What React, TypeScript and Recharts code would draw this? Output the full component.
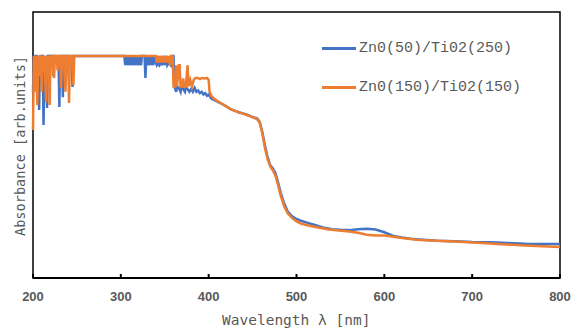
import { LineChart, Line, XAxis, YAxis, ReferenceArea } from 'recharts';

// wavelength (nm) and absorbance (arb. units) for ZnO(50)/TiO2(250)
const blueWl = [
  200, 201, 202, 203, 204, 205, 206, 207, 208, 209, 210, 211, 212, 213, 214, 215, 216, 217, 218, 219,
  220, 222, 223, 224, 226, 228, 229, 230, 231, 233, 234, 235, 237, 238, 239, 242, 243, 244, 245, 246,
  250, 300, 304, 305, 306, 308, 309, 311, 312, 314, 315, 317, 318, 320, 321, 323, 324, 327, 328, 329,
  331, 332, 334, 335, 337, 338, 340, 341, 343, 344, 346, 347, 349, 350, 352, 353, 355, 357, 359, 360,
  361, 363, 364, 366, 368, 369, 371, 373, 374, 376, 378, 380, 382, 384, 386, 388, 390, 392, 394, 396,
  398, 400, 403, 406, 410, 415, 420, 425, 430, 435, 440, 445, 450, 455, 458, 461, 464, 467, 470, 473,
  476, 479, 482, 486, 490, 495, 500, 505, 511, 520, 530, 540, 550, 560, 570, 580, 590, 600, 610, 620,
  630, 640, 660, 680, 700, 720, 740, 760, 780, 800,
];
const blueAbs = [
  0.7, 0.835, 0.76, 0.835, 0.835, 0.8, 0.835, 0.632, 0.835, 0.8, 0.835, 0.835, 0.575, 0.835, 0.78, 0.835, 0.639, 0.835, 0.835, 0.79,
  0.835, 0.835, 0.76, 0.835, 0.835, 0.8, 0.835, 0.643, 0.835, 0.835, 0.68, 0.835, 0.835, 0.78, 0.835, 0.835, 0.8, 0.835, 0.718, 0.835,
  0.835, 0.835, 0.835, 0.8, 0.835, 0.8, 0.835, 0.8, 0.835, 0.8, 0.835, 0.8, 0.835, 0.8, 0.835, 0.8, 0.835, 0.835, 0.752, 0.835,
  0.8, 0.835, 0.8, 0.835, 0.8, 0.835, 0.81, 0.8, 0.81, 0.8, 0.81, 0.8, 0.835, 0.8, 0.835, 0.8, 0.81, 0.8, 0.835, 0.835,
  0.72, 0.7, 0.72, 0.715, 0.7, 0.72, 0.71, 0.7, 0.72, 0.71, 0.7, 0.71, 0.7, 0.715, 0.7, 0.705, 0.695, 0.7, 0.69, 0.695,
  0.685, 0.69, 0.675, 0.67, 0.663, 0.655, 0.645, 0.635, 0.628, 0.622, 0.618, 0.612, 0.605, 0.6, 0.588, 0.55, 0.5, 0.455, 0.425, 0.412,
  0.395, 0.36, 0.32, 0.28, 0.25, 0.232, 0.222, 0.215, 0.209, 0.2, 0.19, 0.183, 0.181, 0.18, 0.183, 0.185, 0.182, 0.172, 0.158, 0.152,
  0.148, 0.145, 0.14, 0.138, 0.135, 0.134, 0.132, 0.129, 0.128, 0.128,
];

// wavelength (nm) and absorbance (arb. units) for ZnO(150)/TiO2(150)
const orangeWl = [
  200, 201, 202, 203, 204, 205, 206, 207, 208, 209, 210, 211, 212, 213, 215, 216, 217, 218, 219, 220,
  222, 223, 224, 225, 227, 228, 229, 231, 232, 233, 235, 236, 237, 238, 240, 241, 242, 244, 246, 247,
  300, 340, 341, 342, 344, 345, 347, 348, 350, 351, 353, 354, 356, 357, 359, 360, 362, 363, 364, 366,
  367, 368, 370, 371, 372, 374, 376, 377, 379, 381, 383, 385, 388, 390, 392, 395, 398, 400, 401, 403,
  406, 410, 415, 420, 425, 430, 435, 440, 445, 450, 455, 458, 461, 464, 467, 470, 473, 476, 479, 482,
  486, 490, 495, 500, 505, 511, 520, 537, 560, 570, 580, 590, 600, 610, 620, 640, 680, 720, 760, 800,
];
const orangeAbs = [
  0.556, 0.835, 0.7, 0.835, 0.74, 0.65, 0.835, 0.76, 0.835, 0.835, 0.7, 0.835, 0.78, 0.835, 0.66, 0.835, 0.76, 0.835, 0.65, 0.835,
  0.835, 0.77, 0.752, 0.835, 0.835, 0.78, 0.835, 0.835, 0.714, 0.835, 0.835, 0.76, 0.7, 0.835, 0.835, 0.658, 0.835, 0.835, 0.726, 0.835,
  0.835, 0.835, 0.81, 0.835, 0.81, 0.835, 0.81, 0.835, 0.81, 0.835, 0.81, 0.835, 0.8, 0.835, 0.835, 0.72, 0.72, 0.8, 0.72, 0.8,
  0.8, 0.72, 0.72, 0.75, 0.72, 0.72, 0.8, 0.72, 0.745, 0.72, 0.745, 0.752, 0.752, 0.748, 0.752, 0.75, 0.752, 0.745, 0.7, 0.685,
  0.675, 0.665, 0.655, 0.645, 0.635, 0.628, 0.622, 0.617, 0.611, 0.604, 0.598, 0.585, 0.545, 0.49, 0.448, 0.42, 0.405, 0.385, 0.35, 0.31,
  0.27, 0.243, 0.225, 0.213, 0.205, 0.199, 0.193, 0.182, 0.175, 0.17, 0.163, 0.16, 0.16, 0.155, 0.15, 0.143, 0.137, 0.13, 0.122, 0.117,
];

const xTicks = [200, 300, 400, 500, 600, 700, 800];
const seriesNames = ['Zn0(50)/Ti02(250)', 'Zn0(150)/Ti02(150)'];
const seriesColors = ['#4472C4', '#ED7D31'];

const blueData = blueWl.map((wl, i) => ({ wl, abs: blueAbs[i] }));
const orangeData = orangeWl.map((wl, i) => ({ wl, abs: orangeAbs[i] }));

const LegendBox = () => (
  <div
    style={{
      position: 'absolute',
      left: 322,
      top: 29,
      fontFamily: '"Liberation Mono", monospace',
      fontSize: 15,
      color: '#595959',
    }}
  >
    {seriesNames.map((name, i) => (
      <div key={name} style={{ display: 'flex', alignItems: 'center', height: 39, whiteSpace: 'nowrap' }}>
        <span style={{ display: 'inline-block', width: 34, height: 2.5, background: seriesColors[i], marginRight: 3 }} />
        {name}
      </div>
    ))}
  </div>
);

export default function App() {
  return (
    <div style={{ position: 'absolute', left: 0, top: 0, width: 573, height: 331, background: '#fff' }}>
      <LineChart width={573} height={331} margin={{ top: 12, right: 13, left: 33, bottom: 23 }}>
        <XAxis
          type="number"
          dataKey="wl"
          domain={[200, 800]}
          ticks={xTicks}
          allowDuplicatedCategory={false}
          height={30}
          stroke="#000"
          strokeWidth={2}
          tickSize={-4}
          tickMargin={18}
          tick={{ fill: '#595959', fontSize: 13, fontWeight: 'bold', fontFamily: '"Liberation Sans", Arial, sans-serif' }}
        />
        <YAxis type="number" domain={[0, 1]} hide />
        <ReferenceArea x1={200} x2={800} y1={0} y2={1} fill="none" stroke="#000" strokeWidth={1.5} ifOverflow="visible" />
        <Line
          data={blueData}
          dataKey="abs"
          name={seriesNames[0]}
          stroke={seriesColors[0]}
          strokeWidth={2.5}
          dot={false}
          type="linear"
          isAnimationActive={false}
        />
        <Line
          data={orangeData}
          dataKey="abs"
          name={seriesNames[1]}
          stroke={seriesColors[1]}
          strokeWidth={2.5}
          dot={false}
          type="linear"
          isAnimationActive={false}
        />
      </LineChart>
      <LegendBox />
      <div
        style={{
          position: 'absolute',
          left: 222,
          top: 312,
          fontFamily: '"DejaVu Sans Mono", monospace',
          fontSize: 14.5,
          color: '#595959',
          whiteSpace: 'nowrap',
        }}
      >
        Wavelength λ [nm]
      </div>
      <div
        style={{
          position: 'absolute',
          left: 20,
          top: 146,
          transform: 'translate(-50%, -50%) rotate(-90deg)',
          fontFamily: '"DejaVu Sans Mono", monospace',
          fontSize: 13.6,
          color: '#595959',
          whiteSpace: 'nowrap',
        }}
      >
        Absorbance [arb.units]
      </div>
    </div>
  );
}
